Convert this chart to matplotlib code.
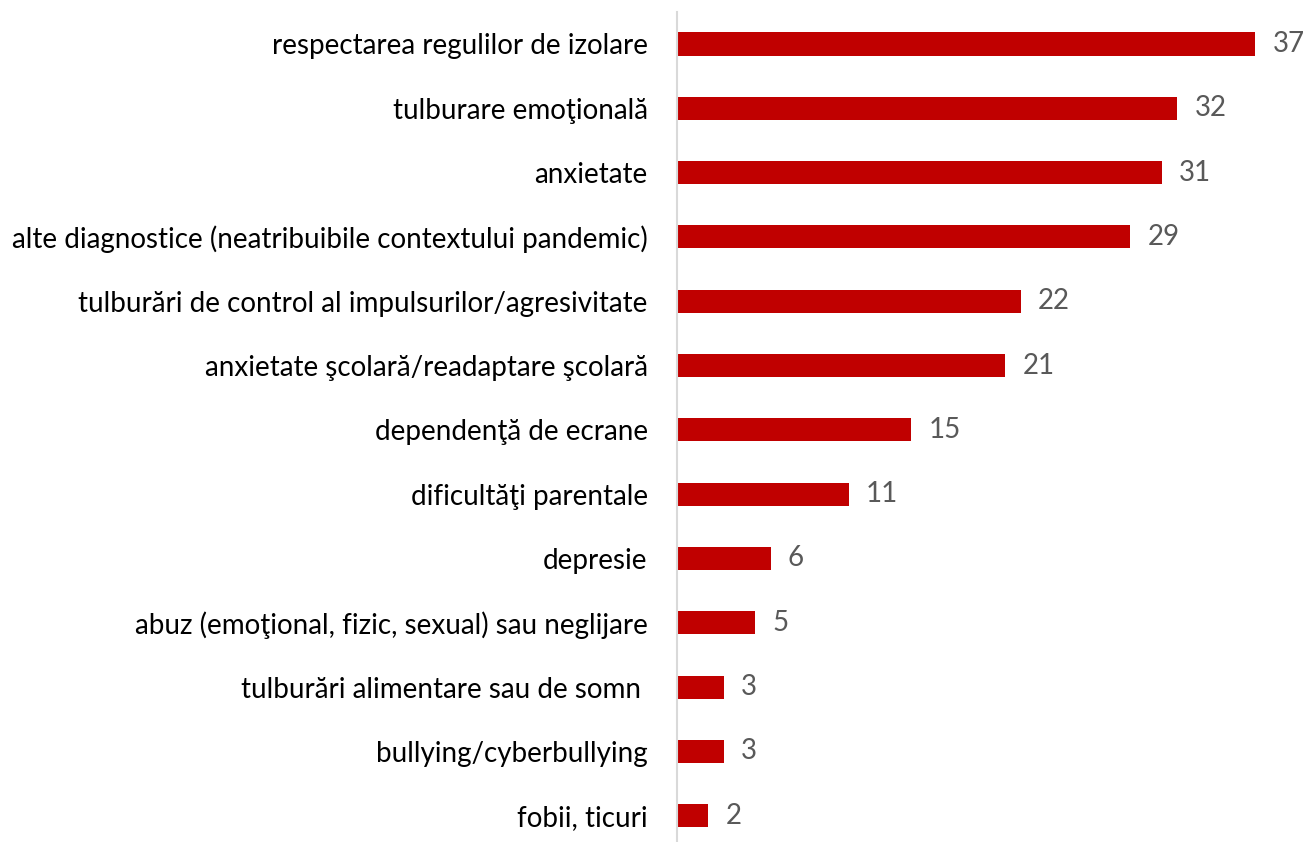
import matplotlib
matplotlib.use("Agg")
import matplotlib.pyplot as plt

plt.rcParams["font.family"] = ["Lato", "DejaVu Sans"]

# data (top to bottom as shown)
categories = [
    "respectarea regulilor de izolare",
    "tulburare emoţională",
    "anxietate",
    "alte diagnostice (neatribuibile contextului pandemic)",
    "tulburări de control al impulsurilor/agresivitate",
    "anxietate şcolară/readaptare şcolară",
    "dependenţă de ecrane",
    "dificultăţi parentale",
    "depresie",
    "abuz (emoţional, fizic, sexual) sau neglijare",
    "tulburări alimentare sau de somn ",
    "bullying/cyberbullying",
    "fobii, ticuri",
]
values = [37, 32, 31, 29, 22, 21, 15, 11, 6, 5, 3, 3, 2]

BAR_COLOR = "#C00000"
VALUE_COLOR = "#595959"

fig = plt.figure(figsize=(13.03, 8.42), dpi=100)
ax = fig.add_axes([0.5195, -0.007, 0.48, 0.993])

pos = list(range(len(categories)))
ax.barh(pos, values, height=0.36, color=BAR_COLOR)
ax.set_ylim(len(categories) - 0.5, -0.5)
ax.set_xlim(0, 40)

ax.set_yticks(pos)
ax.set_yticklabels(categories, fontsize=20, color="black")
ax.tick_params(axis="y", length=0, pad=21)
ax.set_xticks([])

for s in ["top", "right", "bottom"]:
    ax.spines[s].set_visible(False)
ax.spines["left"].set_color("#D9D9D9")
ax.spines["left"].set_linewidth(1.5)

for p, v in zip(pos, values):
    ax.text(v + 1.1, p, str(v), va="center", ha="left", fontsize=20, color=VALUE_COLOR)

fig.savefig("out.png", dpi=100)
